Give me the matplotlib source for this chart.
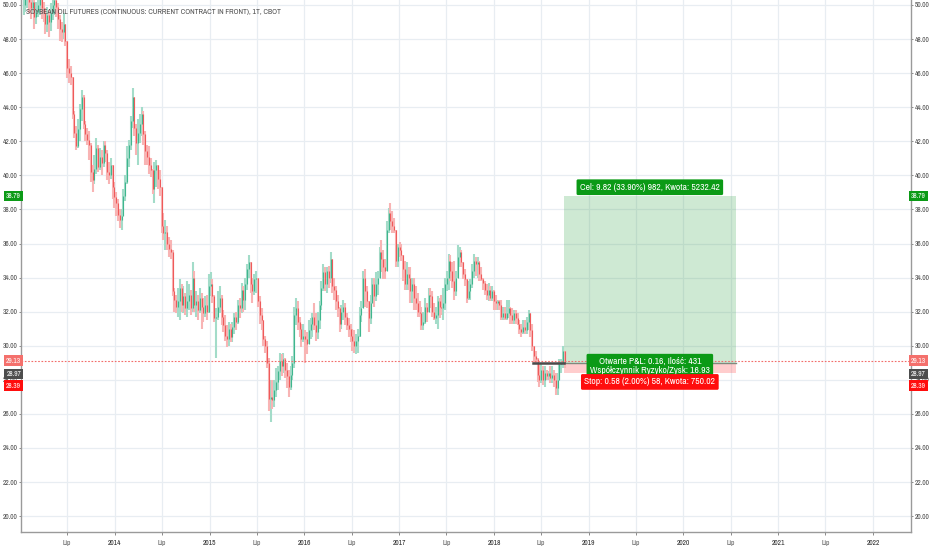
import numpy as np
import pandas as pd
import matplotlib
matplotlib.use("Agg")
import matplotlib.pyplot as plt
import matplotlib.dates as mdates
import matplotlib.transforms as mtransforms
from matplotlib import font_manager as fm

# ---------------- data (weekly bars) ----------------
first_week = "2013-01-14"
closes = [
    50.0, 50.4, 50.6, 50.2, 49.8, 50.2, 49.3, 49.6, 50.0, 50.5,
    49.8, 49.5, 48.9, 49.4, 49.0, 49.5, 50.0, 50.3, 49.9, 49.2,
    48.6, 48.4, 48.9, 47.9, 46.3, 46.0, 45.8, 43.6, 42.5, 41.7,
    42.7, 43.9, 44.6, 43.0, 42.4, 42.1, 41.8, 40.2, 39.7, 40.4,
    41.6, 40.5, 41.1, 40.7, 41.8, 41.3, 40.2, 40.0, 40.6, 39.3,
    38.7, 38.4, 37.7, 37.4, 37.6, 38.8, 39.6, 41.0, 41.8, 43.2,
    44.6, 42.8, 41.9, 42.5, 43.0, 43.6, 42.4, 41.4, 41.1, 40.6,
    40.3, 39.2, 40.3, 40.6, 39.8, 39.3, 37.0, 36.6, 36.7, 36.0,
    35.7, 35.5, 33.2, 32.7, 32.3, 32.6, 33.4, 32.4, 32.9, 32.2,
    32.6, 33.0, 32.2, 34.0, 32.4, 32.6, 32.1, 32.8, 32.3, 31.9,
    32.4, 32.0, 33.5, 33.6, 32.9, 31.6, 31.7, 32.3, 32.8, 31.7,
    31.2, 30.6, 30.4, 31.0, 30.5, 31.1, 31.7, 31.4, 32.4, 32.2,
    33.3, 32.7, 33.6, 34.5, 34.9, 33.6, 33.2, 33.9, 34.0, 32.6,
    31.8, 31.5, 30.4, 30.0, 29.0, 26.9, 27.0, 26.8, 27.4, 27.9,
    28.5, 29.1, 28.8, 29.2, 28.6, 28.2, 27.6, 28.3, 29.0, 31.8,
    32.2, 31.4, 31.0, 30.4, 30.6, 30.4, 30.1, 30.9, 31.3, 31.7,
    31.2, 30.8, 31.5, 32.4, 33.4, 34.3, 33.6, 34.4, 34.0, 35.1,
    33.5, 33.3, 32.6, 32.2, 31.3, 32.0, 32.3, 31.7, 31.2, 31.0,
    30.6, 30.3, 30.0, 30.3, 30.6, 31.8, 32.2, 34.0, 33.2, 32.6,
    31.6, 32.5, 33.6, 32.9, 33.6, 34.0, 35.5, 35.1, 34.6, 34.4,
    36.8, 37.8, 37.3, 37.0, 36.8, 35.0, 35.8, 35.6, 35.3, 34.5,
    33.6, 34.2, 34.0, 33.2, 33.6, 32.8, 32.5, 32.0, 31.9, 31.2,
    31.4, 32.3, 32.0, 33.0, 32.9, 32.0, 31.6, 31.8, 32.6, 32.3,
    32.2, 32.5, 33.6, 34.0, 35.0, 34.4, 33.8, 33.2, 34.0, 35.2,
    35.5, 34.9, 34.2, 33.9, 32.8, 33.2, 33.6, 34.4, 35.0, 34.8,
    34.9, 34.2, 33.9, 33.7, 33.3, 33.0, 33.3, 32.8, 33.2, 32.6,
    32.5, 32.6, 32.4, 31.7, 31.9, 31.6, 31.9, 32.2, 31.8, 31.5,
    31.9, 31.6, 31.3, 31.0, 30.8, 31.1, 30.9, 31.4, 31.9, 30.9,
    30.0, 29.4, 29.2, 28.3, 28.0, 28.6, 28.0, 28.4, 28.2, 28.4,
    28.1, 28.3, 28.0, 27.5, 28.0, 28.9, 29.0, 29.7, 28.97,
]
highs = [
    50.8, 51.0, 51.2, 50.9, 50.6, 50.8, 50.3, 50.2, 50.6, 51.0,
    50.6, 50.2, 49.8, 49.9, 49.7, 50.1, 50.5, 50.9, 50.6, 50.1,
    49.4, 49.0, 49.5, 48.8, 47.9, 46.8, 46.4, 45.4, 43.8, 42.9,
    43.3, 44.2, 45.0, 44.7, 43.2, 42.8, 42.6, 41.9, 40.6, 41.2,
    42.2, 41.8, 41.6, 41.5, 42.0, 42.0, 41.5, 40.8, 41.0, 40.6,
    39.6, 39.0, 38.6, 38.0, 38.0, 39.2, 40.0, 41.7, 42.1, 43.5,
    45.1, 44.6, 43.0, 43.3, 43.6, 44.0, 43.8, 42.6, 41.8, 41.7,
    41.0, 40.4, 40.8, 40.9, 40.6, 40.3, 38.6, 37.8, 37.4, 37.0,
    36.4, 36.2, 35.6, 33.4, 33.0, 33.4, 33.9, 33.6, 33.5, 33.1,
    33.8, 33.6, 33.3, 34.9, 34.4, 33.2, 33.0, 33.4, 33.1, 32.8,
    32.9, 33.0, 34.2, 34.3, 33.9, 33.0, 32.2, 33.2, 33.5, 33.0,
    32.1, 31.8, 31.2, 31.4, 31.3, 31.4, 31.9, 32.0, 32.7, 32.8,
    33.7, 33.5, 34.0, 34.8, 35.3, 34.9, 34.0, 34.2, 34.4, 34.0,
    32.9, 32.2, 31.4, 30.6, 30.3, 29.3, 28.0, 28.0, 28.0, 28.7,
    28.8, 29.6, 29.5, 29.6, 29.3, 29.0, 28.6, 28.8, 29.4, 32.3,
    32.8, 32.6, 31.7, 31.3, 31.3, 30.9, 30.8, 31.5, 31.6, 31.9,
    32.5, 31.9, 32.0, 32.6, 33.8, 34.8, 34.6, 34.6, 34.7, 35.5,
    34.9, 34.0, 33.5, 33.0, 32.3, 32.4, 32.7, 32.5, 31.9, 31.6,
    31.3, 31.0, 30.9, 30.7, 31.0, 32.3, 32.6, 34.4, 34.5, 33.5,
    32.4, 33.0, 34.0, 34.0, 34.3, 34.4, 35.8, 36.2, 35.6, 35.1,
    37.3, 38.1, 38.4, 37.9, 37.5, 36.6, 36.0, 36.1, 36.0, 35.2,
    35.0, 34.9, 34.6, 34.6, 34.0, 34.0, 33.5, 33.1, 32.6, 32.3,
    32.0, 32.8, 32.5, 33.4, 33.4, 33.2, 32.5, 32.3, 32.9, 32.8,
    33.0, 33.4, 34.0, 34.4, 35.4, 35.3, 34.9, 35.0, 34.4, 35.9,
    35.8, 35.6, 34.9, 34.5, 33.8, 33.8, 33.9, 34.8, 35.4, 35.2,
    35.2, 35.0, 34.6, 34.0, 33.8, 33.6, 33.7, 33.5, 33.5, 33.3,
    33.0, 32.7, 32.7, 32.7, 32.3, 32.3, 32.7, 32.7, 32.3, 32.2,
    32.1, 32.1, 31.9, 31.5, 31.3, 31.5, 31.5, 31.7, 32.1, 31.8,
    31.3, 29.9, 29.7, 29.3, 29.0, 29.0, 28.8, 28.8, 28.6, 28.5,
    28.8, 28.8, 28.6, 28.4, 28.4, 29.2, 29.2, 30.0, 29.7,
]
lows = [
    49.4, 49.6, 49.8, 49.5, 49.2, 49.5, 48.6, 48.9, 49.3, 49.4,
    49.2, 49.0, 48.3, 48.4, 48.1, 48.5, 49.1, 49.4, 49.3, 48.6,
    47.9, 47.8, 48.0, 47.6, 45.7, 45.4, 45.3, 43.3, 42.2, 41.5,
    41.6, 42.0, 43.2, 42.7, 42.0, 41.8, 40.9, 39.6, 39.0, 39.5,
    40.1, 40.2, 40.3, 40.0, 40.5, 40.8, 39.7, 39.5, 39.8, 38.6,
    38.1, 37.6, 37.3, 36.9, 36.8, 37.6, 38.5, 39.5, 40.5, 41.5,
    42.8, 42.3, 41.2, 40.6, 41.9, 42.3, 41.8, 40.6, 40.6, 40.1,
    39.9, 38.9, 38.4, 39.3, 39.2, 38.8, 36.6, 36.2, 35.6, 35.6,
    35.2, 35.1, 32.9, 32.0, 31.9, 31.7, 31.5, 32.0, 31.9, 31.8,
    31.7, 32.1, 31.8, 32.0, 32.0, 31.7, 31.5, 31.9, 31.0, 31.4,
    31.7, 31.5, 31.9, 32.9, 32.5, 31.4, 29.3, 31.5, 31.9, 31.2,
    30.8, 30.3, 29.9, 30.0, 30.2, 30.2, 30.7, 30.9, 31.3, 31.6,
    31.9, 32.0, 32.1, 33.3, 34.0, 33.1, 32.5, 33.0, 33.1, 32.3,
    31.3, 30.9, 30.0, 29.6, 28.7, 26.2, 25.5, 26.3, 26.4, 27.0,
    27.4, 28.0, 28.2, 28.4, 28.1, 27.5, 27.0, 27.4, 28.0, 28.7,
    31.2, 30.9, 30.5, 29.9, 30.2, 29.0, 29.5, 30.2, 30.4, 30.5,
    30.9, 30.3, 30.4, 31.0, 32.1, 33.2, 33.2, 33.1, 33.4, 33.7,
    33.1, 32.7, 32.1, 31.7, 30.8, 31.0, 31.5, 31.2, 30.9, 30.5,
    30.2, 29.7, 29.6, 29.5, 29.6, 30.5, 31.4, 32.3, 32.3, 32.2,
    30.8, 31.3, 32.7, 32.3, 32.6, 33.0, 34.3, 34.3, 33.9, 33.9,
    34.5, 36.6, 36.8, 36.6, 36.6, 34.6, 34.6, 35.2, 35.0, 33.8,
    33.3, 33.3, 33.3, 32.5, 32.5, 32.1, 32.1, 31.7, 31.7, 30.9,
    30.9, 31.3, 31.4, 32.3, 32.2, 31.7, 31.5, 31.3, 31.0, 31.6,
    31.8, 31.5, 32.1, 33.2, 33.3, 33.8, 33.4, 32.7, 32.9, 34.2,
    34.6, 34.6, 33.9, 33.5, 32.5, 32.7, 32.7, 33.4, 34.0, 34.1,
    34.0, 33.8, 33.8, 33.3, 33.0, 32.7, 32.6, 32.6, 32.6, 32.1,
    32.1, 32.1, 32.1, 31.5, 31.5, 31.5, 31.5, 31.6, 31.3, 31.3,
    31.3, 31.3, 31.2, 30.7, 30.5, 30.7, 30.7, 30.7, 30.9, 30.5,
    29.7, 29.0, 29.0, 27.9, 27.6, 27.8, 27.7, 27.6, 28.0, 28.0,
    27.8, 27.8, 27.6, 27.1, 27.1, 28.3, 28.4, 28.7, 28.7,
]

# position tool (long)
entry_price = 28.97
target_price = 38.79
stop_price = 28.39
marked_price = 29.13
position_start = "2018-09-26"
position_end = "2020-07-22"
entry_line_start = "2018-06-01"
label_target = "Cel: 9.82 (33.90%) 982, Kwota: 5232.42"
label_open = "Otwarte P&L: 0.16, Ilość: 431\nWspółczynnik Ryzyko/Zysk: 16.93"
label_stop = "Stop: 0.58 (2.00%) 58, Kwota: 750.02"
title = "SOYBEAN OIL FUTURES (CONTINUOUS: CURRENT CONTRACT IN FRONT), 1T, CBOT"

y_ticks = [20, 22, 24, 26, 28, 30, 32, 34, 36, 38, 40, 42, 44, 46, 48, 50]
x_tick_dates = ["2013-07-01", "2014-01-01", "2014-07-01", "2015-01-01", "2015-07-01",
                "2016-01-01", "2016-07-01", "2017-01-01", "2017-07-01", "2018-01-01",
                "2018-07-01", "2019-01-01", "2019-07-01", "2020-01-01", "2020-07-01",
                "2021-01-01", "2021-07-01", "2022-01-01"]
x_tick_labels = ["Lip", "2014", "Lip", "2015", "Lip", "2016", "Lip", "2017", "Lip",
                 "2018", "Lip", "2019", "Lip", "2020", "Lip", "2021", "Lip", "2022"]

# ---------------- fonts: prefer a narrow / condensed face ----------------
FONT_KW = {}
narrow_found = False
for f in fm.fontManager.ttflist:
    if "Narrow" in f.name or "Condensed" in f.name:
        FONT_KW = {"family": [f.name, "DejaVu Sans"]}
        narrow_found = True
        break
if not narrow_found:
    for f in fm.fontManager.ttflist:
        if f.name == "DejaVu Sans" and str(f.stretch) in ("condensed", "semi-condensed"):
            FONT_KW = {"family": ["DejaVu Sans"], "stretch": "condensed"}
            narrow_found = True
            break
if not narrow_found:
    FONT_KW = {"family": ["Liberation Sans", "DejaVu Sans"]}
plt.rcParams["font.family"] = FONT_KW["family"]
if "stretch" in FONT_KW:
    plt.rcParams["font.stretch"] = FONT_KW["stretch"]
fs = 1.0 if narrow_found else 0.85

# ---------------- figure ----------------
fig = plt.figure(figsize=(9.32, 5.5), dpi=100)
ax = fig.add_axes([21 / 932, 18 / 550, 890 / 932, 532 / 550])

dates = pd.date_range(first_week, periods=len(closes), freq="7D")
xd = mdates.date2num(dates)
c = np.array(closes)
h = np.array(highs)
l = np.array(lows)
o = np.r_[c[0], c[:-1]]
hh = np.maximum(h, np.maximum(o, c))
ll = np.minimum(l, np.minimum(o, c))
up = c >= o

UP_L, UP_D = "#a3dcc9", "#3fb68e"
DN_L, DN_D = "#f8b4b4", "#ef5a5a"

ax.vlines(xd[up], ll[up], hh[up], color=UP_L, lw=1.5, zorder=3)
ax.vlines(xd[~up], ll[~up], hh[~up], color=DN_L, lw=1.5, zorder=3)
ax.vlines(xd[up], np.minimum(o, c)[up], np.maximum(o, c)[up], color=UP_D, lw=0.8, zorder=4)
ax.vlines(xd[~up], np.minimum(o, c)[~up], np.maximum(o, c)[~up], color=DN_D, lw=0.8, zorder=4)

ax.set_xlim(mdates.date2num(pd.Timestamp("2013-01-04")), mdates.date2num(pd.Timestamp("2022-05-27")))
ax.set_ylim(19.07, 50.29)

# grid
for t in y_ticks:
    ax.axhline(t, color="#e8edf2", lw=0.9, zorder=0)
xt = mdates.date2num(pd.to_datetime(x_tick_dates))
for t in xt:
    ax.axvline(t, color="#e8edf2", lw=0.9, zorder=0)

# position tool
ps = mdates.date2num(pd.Timestamp(position_start))
pe = mdates.date2num(pd.Timestamp(position_end))
ax.fill_between([ps, pe], entry_price, target_price, color="#2ea043", alpha=0.23, lw=0, zorder=2)
ax.fill_between([ps, pe], stop_price, entry_price, color="#ff3b3b", alpha=0.25, lw=0, zorder=2)
ax.plot([ps, pe], [entry_price, entry_price], color="#7d8a7d", lw=1.0, zorder=5)
ax.plot([mdates.date2num(pd.Timestamp(entry_line_start)), ps], [entry_price, entry_price],
        color="#4b4b4b", lw=1.8, zorder=6)
ax.axhline(marked_price, color="#f26b69", lw=0.8, ls=(0, (1.5, 1.5)), zorder=5)

mid = (ps + pe) / 2
GREEN = "#0b9a16"
RED = "#ff0d0d"
lab_fs = 6.9 * fs
ax.annotate(label_target, (mid, target_price), xytext=(0, 6.3), textcoords="offset points",
            ha="center", va="center", color="white", fontsize=lab_fs, zorder=10,
            bbox=dict(boxstyle="round,pad=0.35,rounding_size=0.15", fc=GREEN, ec="none"))
ax.annotate(label_open, (mid, entry_price), xytext=(0, 4.4), textcoords="offset points",
            ha="center", va="top", color="white", fontsize=lab_fs, zorder=10, linespacing=0.95,
            bbox=dict(boxstyle="round,pad=0.35,rounding_size=0.15", fc=GREEN, ec="none"))
ax.annotate(label_stop, (mid, stop_price), xytext=(0, -6.3), textcoords="offset points",
            ha="center", va="center", color="white", fontsize=lab_fs, zorder=11,
            bbox=dict(boxstyle="round,pad=0.35,rounding_size=0.15", fc=RED, ec="none"))

# axes styling
ax.spines["top"].set_visible(False)
for side in ["left", "right", "bottom"]:
    ax.spines[side].set_color("#9a9a9a")
    ax.spines[side].set_linewidth(1.0)

tick_fs = 5.3 * fs
ax.set_yticks(y_ticks)
ax.set_yticklabels([f"{t:.2f}" for t in y_ticks])
ax.tick_params(axis="y", left=True, right=True, labelleft=True, labelright=True,
               length=1.5, width=0.6, color="#777", labelsize=tick_fs, labelcolor="#4a4a4a", pad=1.0)
ax.set_xticks(xt)
ax.set_xticklabels(x_tick_labels)
ax.tick_params(axis="x", length=2, width=0.6, color="#777", labelsize=tick_fs, pad=4)
for lbl, txt in zip(ax.get_xticklabels(), x_tick_labels):
    if txt == "Lip":
        lbl.set_color("#555555")
    else:
        lbl.set_color("#2a2a2a")
        lbl.set_fontweight("bold")

# price labels on both axes
price_labels = [
    (target_price, 0, GREEN, "white"),
    (marked_price, 0, "#f4706c", "white"),
    (entry_price, -7.6, "#4d4d4d", "white"),
    (stop_price, -9.0, RED, "white"),
]
tr = mtransforms.blended_transform_factory(ax.transAxes, ax.transData)
for val, off, fc, tc in price_labels:
    for xa, ha in [(1.0, "left"), (0.0, "right")]:
        ax.annotate(f"{val:.2f}", (xa, val), xycoords=tr, xytext=(0, off), textcoords="offset points",
                    ha=ha, va="center", fontsize=tick_fs, color=tc, annotation_clip=False, zorder=20,
                    bbox=dict(boxstyle="square,pad=0.3", fc=fc, ec="none"))

fig.text(26 / 932, 1 - 12 / 550, title, ha="left", va="center",
         fontsize=(5.5 if narrow_found else 5.3), color="#4a4a4a")

fig.savefig("out.png", dpi=100)
